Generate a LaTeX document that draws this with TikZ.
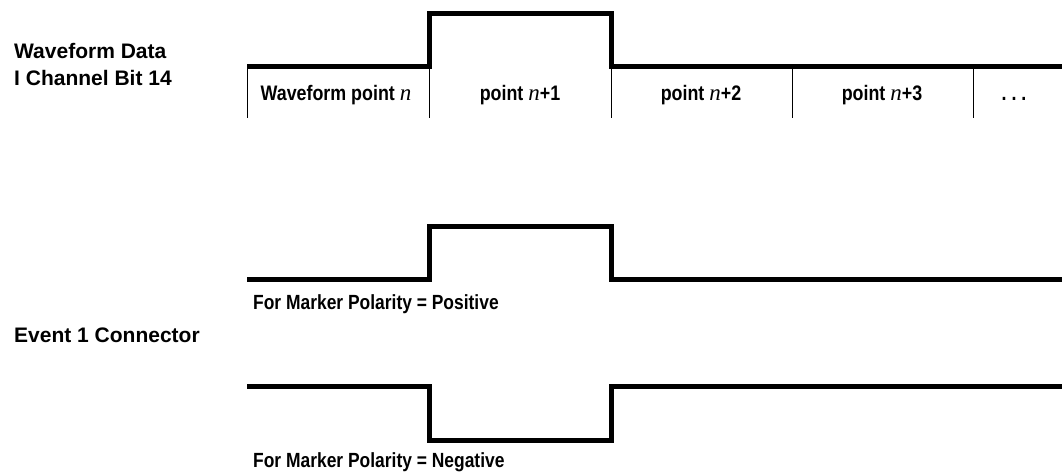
\documentclass[tikz,border=0pt]{standalone}
\usepackage{fontspec}
\setmainfont{Liberation Sans}
\newfontfamily\narrowsf{Liberation Sans}[FakeStretch=0.85]
\newfontfamily\timesit{Liberation Serif}
\newcommand{\nvar}{{\timesit\mdseries\itshape\fontsize{23}{24}\selectfont n}}
\tikzset{
  wave/.style={line width=5pt, line join=miter},
  cellsep/.style={line width=1pt},
  sidelabel/.style={font=\bfseries\fontsize{21}{27}\selectfont, anchor=base west, inner sep=0pt},
  celltext/.style={font=\narrowsf\bfseries\fontsize{21}{24}\selectfont, anchor=base, inner sep=0pt},
  polarity/.style={font=\narrowsf\bfseries\fontsize{20.5}{24}\selectfont, anchor=base west, inner sep=0pt}
}
\begin{document}
\begin{tikzpicture}[x=1pt,y=-1pt]
\useasboundingbox (0,0) rectangle (1062,475);
% labels on the left
\node[sidelabel] (wfdata) at (14,58) {Waveform Data};
\node[sidelabel] (ichan) at (14,85) {I Channel Bit 14};
\node[sidelabel] (event) at (14,342) {Event 1 Connector};
% waveform data, bit 14
\draw[wave] (247,66) -- (429.5,66) -- (429.5,13.5) -- (611,13.5) -- (611,66) -- (1062,66);
\foreach \x in {247,429,611,792,973}
  \draw[cellsep] (\x,66) -- (\x,118);
\node[celltext] (pt0) at (336,100) {Waveform point \nvar};
\node[celltext] (pt1) at (520,100) {point \nvar+1};
\node[celltext] (pt2) at (701,100) {point \nvar+2};
\node[celltext] (pt3) at (882,100) {point \nvar+3};
\node[celltext] (more) at (1014,100) {.~.~.};
% event 1, positive marker
\draw[wave] (247,279) -- (429.5,279) -- (429.5,226.5) -- (611,226.5) -- (611,279) -- (1062,279);
\node[polarity] (pos) at (253,309) {For Marker Polarity = Positive};
% event 1, negative marker
\draw[wave] (247,386.5) -- (429.5,386.5) -- (429.5,440) -- (611,440) -- (611,386.5) -- (1062,386.5);
\node[polarity] (neg) at (253,467) {For Marker Polarity = Negative};
\end{tikzpicture}
\end{document}
